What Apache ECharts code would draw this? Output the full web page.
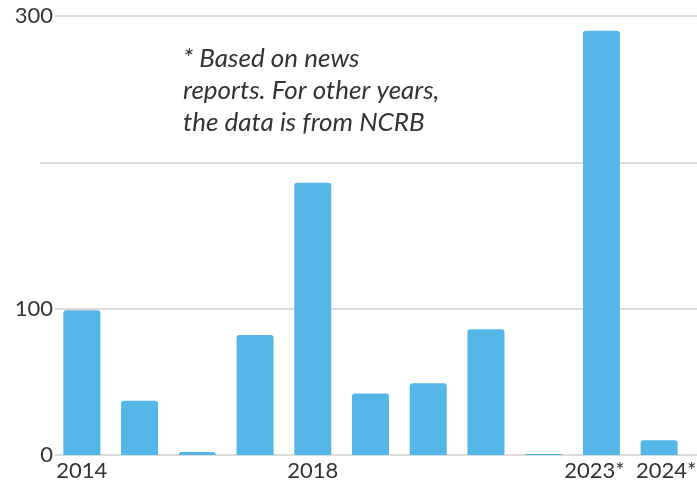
<!DOCTYPE html>
<html><head><meta charset="utf-8">
<script src="https://cdn.jsdelivr.net/npm/echarts@6/dist/echarts.min.js"></script>
<style>html,body{margin:0;padding:0;background:#fff}#c{width:697px;height:490px}</style>
</head><body><div id="c"></div>
<script>
const categories = ['2014','2015','2016','2017','2018','2019','2020','2021','2022','2023','2024'];
const values = [99, 37, 2, 82, 186, 42, 49, 86, 0.6, 290, 10];
const shownXLabels = {'2014':'2014','2018':'2018','2023':'2023*','2024':'2024*'};
const yTicks = [0, 100, 200, 300];
const shownYLabels = [0, 100, 300];
const note = '* Based on news\nreports. For other years,\nthe data is from NCRB';

const chart = echarts.init(document.getElementById('c'), null, {renderer:'canvas'});
const FONT = 'Lato';
const catData = categories.map(c => {
  if (c === '2023') return {value:c, textStyle:{padding:[0,14,0,0]}};
  if (c === '2024') return {value:c, textStyle:{padding:[0,0,0,14]}};
  return c;
});
chart.setOption({
  animation:false,
  grid:[
    {left:40, right:0, top:16, bottom:35, outerBoundsMode:'none', containLabel:false},
    {left:53, right:9, top:16, bottom:35, outerBoundsMode:'none', containLabel:false}
  ],
  xAxis:[
    {gridIndex:0, type:'category', data:categories, show:false},
    {gridIndex:1, type:'category', data:catData,
     axisLine:{show:false}, axisTick:{show:false},
     axisLabel:{interval:0, color:'#333', fontFamily:FONT, fontSize:22, margin:5,
       formatter:v=>shownXLabels[v]||''}}
  ],
  yAxis:[
    {gridIndex:0, type:'value', min:yTicks[0], max:yTicks[yTicks.length-1], interval:100,
     axisLine:{show:false}, axisTick:{show:false},
     splitLine:{lineStyle:{color:'#d0d0d0', width:1.5}},
     axisLabel:{color:'#333', fontFamily:FONT, fontSize:22, margin:-15,
       backgroundColor:'#fff', padding:[0,2,0,0],
       formatter:v=>shownYLabels.includes(v)?String(v):''}},
    {gridIndex:1, type:'value', min:0, max:300, interval:100, show:false}
  ],
  series:[{
    type:'bar', xAxisIndex:1, yAxisIndex:1, data:values, barWidth:37,
    itemStyle:{color:'#54b6e7', borderRadius:[3,3,0,0]}
  }],
  graphic:[{
    type:'text', left:183, top:43,
    style:{text:note, fill:'#333', font:'italic 26px Lato', lineHeight:32}
  }]
});
</script></body></html>
